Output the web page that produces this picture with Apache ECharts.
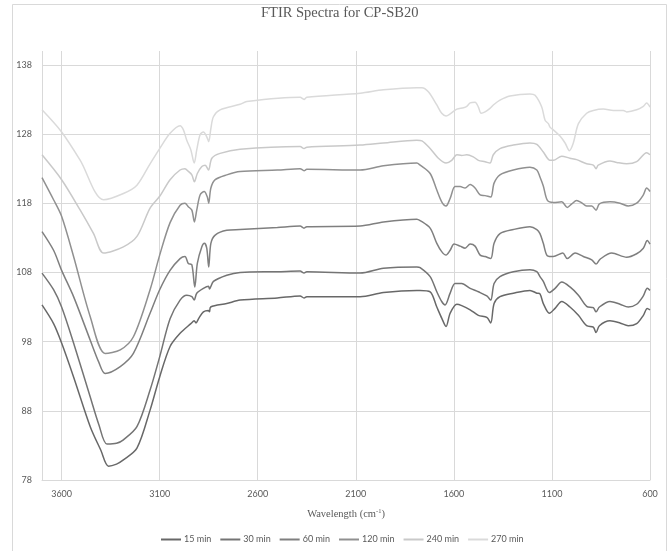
<!DOCTYPE html>
<html><head><meta charset="utf-8">
<script src="https://cdn.jsdelivr.net/npm/echarts@6/dist/echarts.min.js"></script>
<style>html,body{margin:0;padding:0;background:#fff}#c{width:668px;height:551px}</style>
</head><body><div id="c"></div>
<script>
const seriesNames = ['15 min','30 min','60 min','120 min','240 min','270 min'];
const xTicks = [600,1100,1600,2100,2600,3100,3600];
const yTicks = [78,88,98,108,118,128,138];

const s15 = [[3700,103.3],[3641,100.6],[3600,97.8],[3539,92.9],[3454,85.7],[3400,82.3],[3361,80.0],[3320,80.3],[3285,80.9],[3216,82.6],[3149,88.1],[3100,92.9],[3047,97.3],[2996,99.2],[2941,100.6],[2924,101.0],[2915,100.7],[2900,101.4],[2877,102.3],[2852,102.5],[2846,102.3],[2840,103.0],[2758,103.5],[2690,104.0],[2500,104.3],[2384,104.6],[2364,104.3],[2350,104.5],[2078,104.5],[1959,105.1],[1789,105.4],[1772,105.4],[1721,105.2],[1687,103.0],[1662,101.4],[1640,100.2],[1619,102.1],[1585,103.4],[1560,103.2],[1517,102.6],[1475,101.8],[1432,101.5],[1412,100.7],[1395,103.5],[1365,104.5],[1297,105.0],[1212,105.4],[1177,105.0],[1161,104.9],[1144,103.5],[1113,102.1],[1084,102.8],[1050,103.8],[1008,103.0],[965,101.8],[923,100.3],[889,100.1],[875,99.3],[858,100.3],[804,101.0],[753,100.7],[711,100.3],[668,100.6],[634,101.8],[614,102.8],[600,102.6]];

const s30 = [[3700,107.9],[3641,105.5],[3600,103.0],[3539,97.8],[3454,90.0],[3410,86.0],[3369,83.2],[3320,83.3],[3285,83.8],[3216,85.7],[3149,91.0],[3100,95.8],[3047,101.3],[2996,104.0],[2962,104.7],[2936,104.5],[2924,104.0],[2911,105.0],[2877,105.7],[2851,106.0],[2846,105.6],[2826,106.7],[2758,107.6],[2690,108.0],[2500,108.1],[2384,108.2],[2364,107.9],[2350,108.1],[2078,107.9],[1959,108.6],[1789,108.8],[1772,108.7],[1721,107.4],[1687,105.2],[1662,103.8],[1645,103.3],[1619,105.0],[1594,106.4],[1560,106.4],[1517,105.7],[1475,105.2],[1432,104.6],[1412,104.0],[1395,106.4],[1365,107.4],[1297,108.1],[1212,108.4],[1177,108.1],[1161,107.4],[1144,106.7],[1113,105.1],[1084,105.7],[1050,106.6],[1008,105.9],[965,104.7],[923,103.1],[889,102.9],[875,102.3],[858,103.0],[804,103.8],[753,103.4],[711,103.0],[668,103.4],[634,104.6],[614,105.7],[600,105.4]];

const s60 = [[3700,113.9],[3641,111.2],[3600,108.3],[3539,104.5],[3454,98.2],[3410,95.0],[3378,93.4],[3301,94.4],[3234,96.3],[3149,102.1],[3100,105.5],[3047,108.3],[2996,110.0],[2971,110.3],[2954,109.3],[2936,109.1],[2921,105.9],[2908,109.3],[2885,111.7],[2872,112.2],[2860,111.5],[2850,108.8],[2839,112.2],[2817,113.4],[2758,114.1],[2690,114.2],[2500,114.5],[2384,114.7],[2364,114.4],[2350,114.6],[2078,114.7],[1959,115.3],[1789,115.7],[1772,115.5],[1721,114.4],[1687,112.2],[1662,111.0],[1640,110.5],[1619,111.2],[1599,112.1],[1568,111.8],[1543,111.5],[1517,112.1],[1492,111.8],[1466,110.5],[1441,110.3],[1412,110.0],[1395,112.2],[1365,113.6],[1297,114.2],[1212,114.6],[1177,114.2],[1161,113.6],[1144,112.2],[1123,110.4],[1093,110.3],[1045,110.8],[1022,110.0],[982,110.8],[940,110.3],[897,109.8],[875,109.2],[855,109.9],[795,110.8],[719,110.2],[668,110.7],[634,111.5],[614,112.6],[600,112.1]];

const s120 = [[3700,121.7],[3641,118.5],[3600,116.1],[3539,110.3],[3454,101.6],[3378,96.3],[3301,96.8],[3234,98.7],[3149,105.5],[3100,110.5],[3047,115.2],[2996,117.7],[2971,118.0],[2954,117.5],[2936,117.0],[2923,115.3],[2911,117.0],[2894,119.2],[2873,119.7],[2857,118.9],[2850,118.0],[2839,120.2],[2817,121.4],[2758,122.1],[2690,122.6],[2500,122.8],[2384,123.0],[2364,122.7],[2350,122.9],[2078,122.8],[1959,123.4],[1789,123.8],[1772,123.5],[1721,122.3],[1687,119.9],[1662,118.2],[1640,117.6],[1619,118.7],[1594,120.4],[1568,120.4],[1543,120.2],[1517,120.7],[1492,120.2],[1466,119.2],[1441,119.1],[1412,118.9],[1395,120.9],[1365,122.1],[1297,122.8],[1212,123.2],[1177,122.8],[1161,121.8],[1144,120.5],[1123,118.4],[1093,118.1],[1050,118.2],[1022,117.4],[999,117.9],[974,118.4],[950,118.1],[923,117.6],[897,117.6],[875,117.0],[858,117.9],[804,118.2],[753,118.0],[711,117.6],[668,118.0],[634,119.2],[617,120.2],[600,119.7]];

const s240 = [[3700,125.0],[3600,121.4],[3505,117.0],[3437,113.6],[3386,110.8],[3285,111.7],[3216,113.2],[3149,117.3],[3100,119.0],[3047,121.4],[2996,122.8],[2971,123.0],[2954,122.6],[2936,122.1],[2923,121.1],[2908,122.3],[2885,123.3],[2868,123.5],[2851,122.8],[2834,124.5],[2792,125.2],[2690,125.8],[2384,126.2],[2364,125.9],[2350,126.1],[2078,126.4],[1959,126.7],[1789,127.1],[1763,127.0],[1721,125.9],[1679,124.5],[1640,123.8],[1611,124.2],[1585,125.0],[1560,124.9],[1534,125.0],[1501,124.7],[1475,124.2],[1441,124.0],[1416,123.8],[1399,125.0],[1365,125.9],[1297,126.4],[1212,126.7],[1177,126.5],[1144,125.4],[1110,124.2],[1093,124.2],[1050,124.8],[1008,124.5],[974,124.3],[923,123.7],[889,123.5],[875,123.0],[864,123.5],[804,124.1],[770,123.9],[719,123.7],[668,124.0],[617,125.3],[600,125.0]];

const s270 = [[3700,131.5],[3600,128.3],[3505,124.2],[3386,118.5],[3285,119.4],[3216,120.6],[3149,123.7],[3100,125.9],[3047,128.1],[2996,129.2],[2979,128.6],[2962,127.1],[2941,125.7],[2924,123.8],[2911,125.7],[2894,127.9],[2877,128.3],[2860,127.6],[2850,126.9],[2839,128.8],[2826,130.5],[2792,131.5],[2690,132.3],[2656,132.7],[2384,133.3],[2364,133.0],[2350,133.3],[2078,133.9],[1959,134.4],[1789,134.7],[1763,134.7],[1730,134.1],[1687,132.2],[1662,131.0],[1640,130.6],[1619,130.9],[1585,131.6],[1551,131.8],[1534,132.0],[1517,132.5],[1492,132.6],[1475,131.9],[1461,131.0],[1441,131.2],[1416,131.7],[1399,132.2],[1365,132.9],[1314,133.5],[1212,133.8],[1186,133.6],[1152,131.9],[1135,130.0],[1118,129.5],[1110,129.0],[1093,128.6],[1059,127.7],[1033,126.7],[1011,125.6],[991,126.7],[965,129.5],[923,131.0],[889,131.4],[838,131.6],[787,131.4],[736,131.4],[719,131.2],[668,131.5],[634,132.0],[617,132.5],[600,131.9]];

const seriesData = [s15, s30, s60, s120, s240, s270];
const colors = ['#686868','#747474','#7f7f7f','#909090','#c9c9c9','#dadada'];

const chart = echarts.init(document.getElementById('c'), null, {renderer: 'canvas'});
const labelFont = {fontFamily: 'Lato', fontSize: 9, color: '#595959'};
chart.setOption({
  animation: false,
  backgroundColor: '#ffffff',
  title: {
    text: 'FTIR Spectra for CP-SB20', left: 261, top: 6, padding: 0,
    textStyle: {fontFamily: 'Liberation Serif', fontSize: 14.5, fontWeight: 'normal', color: '#595959'}
  },
  graphic: [{
    type: 'rect', silent: true, z: -10,
    shape: {x: 12.5, y: 4.5, width: 654, height: 600},
    style: {fill: 'none', stroke: '#d9d9d9', lineWidth: 1}
  }],
  legend: {
    data: seriesNames, left: 161, top: 535, padding: 0,
    icon: 'rect', itemWidth: 20, itemHeight: 2, itemGap: 9,
    textStyle: Object.assign({padding: [0, 0, 0, -2]}, labelFont)
  },
  grid: {left: 42, right: 18, top: 51, bottom: 71},
  xAxis: {
    type: 'value', inverse: true, min: 600, max: 3700, interval: 500,
    name: '{a|Wavelength (cm}{b|-1}{a|)}', nameLocation: 'middle', nameGap: 28,
    nameTextStyle: {
      rich: {
        a: {fontFamily: 'Liberation Serif', fontSize: 10.5, color: '#595959', lineHeight: 13},
        b: {fontFamily: 'Liberation Serif', fontSize: 6.5, color: '#595959', verticalAlign: 'top', lineHeight: 13}
      }
    },
    axisLine: {show: true, lineStyle: {color: '#d9d9d9', width: 1}},
    axisTick: {show: false},
    axisLabel: Object.assign({margin: 10, formatter: v => xTicks.indexOf(v) >= 0 ? String(v) : ''}, labelFont),
    splitLine: {show: true, lineStyle: {color: '#d9d9d9', width: 1}}
  },
  yAxis: {
    type: 'value', min: 78, max: 140, interval: 10,
    axisLine: {show: false},
    axisTick: {show: false},
    axisLabel: Object.assign({margin: 10, formatter: v => yTicks.indexOf(v) >= 0 ? String(v) : ''}, labelFont),
    splitLine: {show: true, showMaxLine: false, lineStyle: {color: '#d9d9d9', width: 1}}
  },
  series: seriesNames.map((n, i) => ({
    name: n, type: 'line', data: seriesData[i], showSymbol: false, symbol: 'none',
    smooth: 0.3, color: colors[i], lineStyle: {color: colors[i], width: 1.5}, z: 2
  }))
});
</script></body></html>
